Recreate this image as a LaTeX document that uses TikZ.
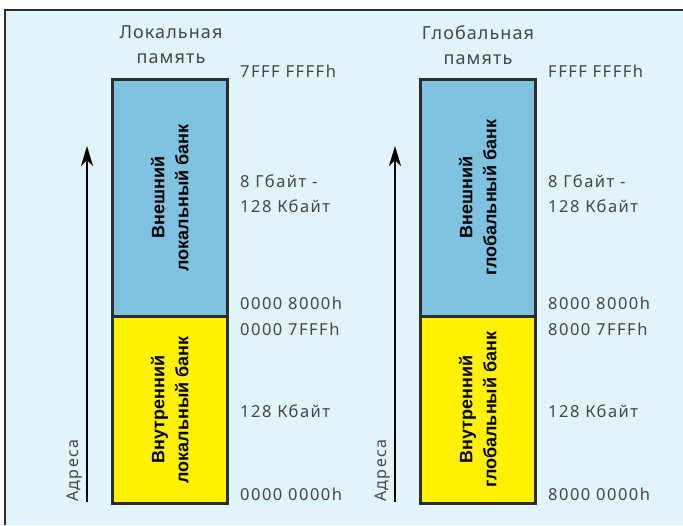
\documentclass[tikz,border=0pt]{standalone}
\usepackage{fontspec}
\setmainfont{Noto Sans}[LetterSpace=6]
\newfontfamily\addrfont{Noto Sans}[LetterSpace=9]
\newfontfamily\bankfont{Liberation Sans}
\usetikzlibrary{arrows.meta}
\definecolor{panelbg}{RGB}{225,243,251}
\definecolor{extblue}{RGB}{127,195,225}
\definecolor{intyellow}{RGB}{255,242,0}
\definecolor{addrgray}{RGB}{70,70,70}
\definecolor{edgegray}{RGB}{45,45,45}
\tikzset{
  bankbox/.style={draw=edgegray, line width=2.5pt, minimum width=115pt, anchor=north west, inner sep=0pt},
  banklabel/.style={rotate=90, align=center, font=\bankfont\bfseries\fontsize{18}{24}\selectfont},
  addr/.style={anchor=base west, text=addrgray, inner sep=0pt, font=\addrfont\fontsize{16.5}{18}\selectfont},
  memtitle/.style={align=center, text=addrgray, font=\fontsize{18}{25}\selectfont},
  axislabel/.style={rotate=90, anchor=base west, inner sep=0pt, text=addrgray, font=\addrfont\fontsize{16}{18}\selectfont},
  uparrow/.style={line width=2pt, -{Stealth[length=20pt,width=12pt,inset=6pt]}},
}
\begin{document}
\begin{tikzpicture}[x=1pt,y=-1pt]
  \useasboundingbox (0,0) rectangle (683,525);
  \fill[panelbg] (5,10) rectangle (683,525); % panel
  \draw[edgegray, line width=1.5pt] (5,525) -- (5,10) -- (683,10);

  % local memory
  \node[memtitle] (loctitle) at (171,45) {Локальная\\память};
  \node[bankbox, fill=extblue, minimum height=237pt] (locext) at (111,78) {};
  \node[bankbox, fill=intyellow, minimum height=187pt] (locint) at (111,315) {};
  \node[banklabel] (locextlabel) at (locext.center) {Внешний\\локальный банк};
  \node[banklabel] (locintlabel) at (locint.center) {Внутренний\\локальный банк};
  \coordinate (locfoot) at (87,502);
  \coordinate (loctip) at (87,146);
  \draw[uparrow] (locfoot) -- (loctip);
  \node[axislabel] (locaxis) at (78,502) {Адреса};
  \node[addr] (loctop) at (240,77) {7FFF FFFFh};
  \node[addr] (locsize) at (240,187) {8 Гбайт -};
  \node[addr] (locsizeb) at (240,212) {128 Кбайт};
  \node[addr] (locextbot) at (240,309) {0000 8000h};
  \node[addr] (locinttop) at (240,335) {0000 7FFFh};
  \node[addr] (locintsize) at (240,417) {128 Кбайт};
  \node[addr] (locbot) at (240,500) {0000 0000h};

  % global memory
  \node[memtitle] (globtitle) at (478,45) {Глобальная\\память};
  \node[bankbox, fill=extblue, minimum height=237pt] (globext) at (419,78) {};
  \node[bankbox, fill=intyellow, minimum height=187pt] (globint) at (419,315) {};
  \node[banklabel] (globextlabel) at (globext.center) {Внешний\\глобальный банк};
  \node[banklabel] (globintlabel) at (globint.center) {Внутренний\\глобальный банк};
  \coordinate (globfoot) at (395,502);
  \coordinate (globtip) at (395,146);
  \draw[uparrow] (globfoot) -- (globtip);
  \node[axislabel] (globaxis) at (386,502) {Адреса};
  \node[addr] (globtop) at (548,77) {FFFF FFFFh};
  \node[addr] (globsize) at (548,187) {8 Гбайт -};
  \node[addr] (globsizeb) at (548,212) {128 Кбайт};
  \node[addr] (globextbot) at (548,309) {8000 8000h};
  \node[addr] (globinttop) at (548,335) {8000 7FFFh};
  \node[addr] (globintsize) at (548,417) {128 Кбайт};
  \node[addr] (globbot) at (548,500) {8000 0000h};
\end{tikzpicture}
\end{document}
